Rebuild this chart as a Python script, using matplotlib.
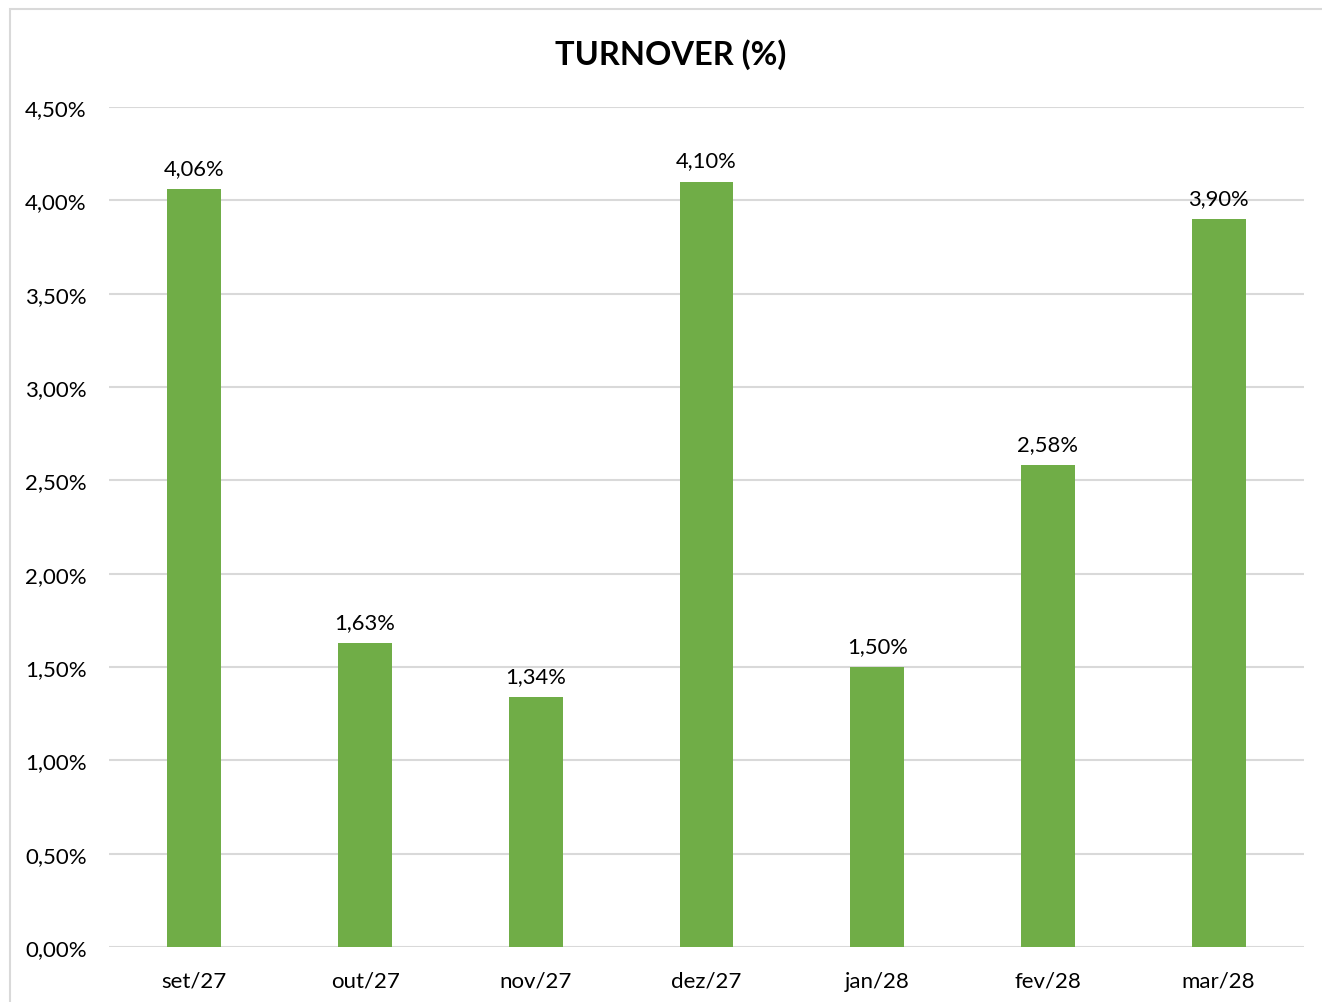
import matplotlib
matplotlib.use("Agg")
import matplotlib.pyplot as plt
from matplotlib.patches import Rectangle
from matplotlib.ticker import FuncFormatter

months = ["set/27", "out/27", "nov/27", "dez/27", "jan/28", "fev/28", "mar/28"]
turnover = [4.06, 1.63, 1.34, 4.10, 1.50, 2.58, 3.90]
y_ticks = [0.0, 0.5, 1.0, 1.5, 2.0, 2.5, 3.0, 3.5, 4.0, 4.5]

plt.rcParams["font.family"] = ["Lato", "DejaVu Sans"]

W, H = 1322, 1003
fig = plt.figure(figsize=(W / 100, H / 100), dpi=100)

# chart frame (extends past the right and bottom edges)
fig.patches.append(Rectangle((10 / W, -0.05), 1.2, (H - 10) / H + 0.05,
                             transform=fig.transFigure, fill=False,
                             edgecolor="#d9d9d9", linewidth=1.5))

ax = fig.add_axes([109 / W, (H - 948) / H, (1304 - 109) / W, (948 - 108) / H])

def pct(v):
    return f"{v:.2f}".replace(".", ",") + "%"

x = range(len(months))
bars = ax.bar(x, turnover, width=0.316, color="#70AD47", zorder=3)
for xi, v in zip(x, turnover):
    ax.annotate(pct(v), (xi, v), xytext=(0, 8), textcoords="offset points",
                ha="center", va="bottom", fontsize=15.8, color="#000000")

ax.set_xlim(-0.5, len(months) - 0.5)
ax.set_ylim(0, 4.5)
ax.set_yticks(y_ticks)
ax.yaxis.set_major_formatter(FuncFormatter(lambda v, _: pct(v)))
ax.set_xticks(list(x))
ax.set_xticklabels(months)
ax.tick_params(axis="both", length=0, labelsize=16, colors="#000000")
ax.tick_params(axis="y", pad=16)
ax.tick_params(axis="x", pad=17)
ax.grid(axis="y", color="#d9d9d9", linewidth=1.5, zorder=0)
for s in ax.spines.values():
    s.set_visible(False)

fig.text((555 + 787) / 2 / W, 1 - 55 / H, "TURNOVER (%)", ha="center", va="center",
         fontsize=23.5, fontweight="bold")

fig.savefig("out.png", dpi=100, facecolor="white")
